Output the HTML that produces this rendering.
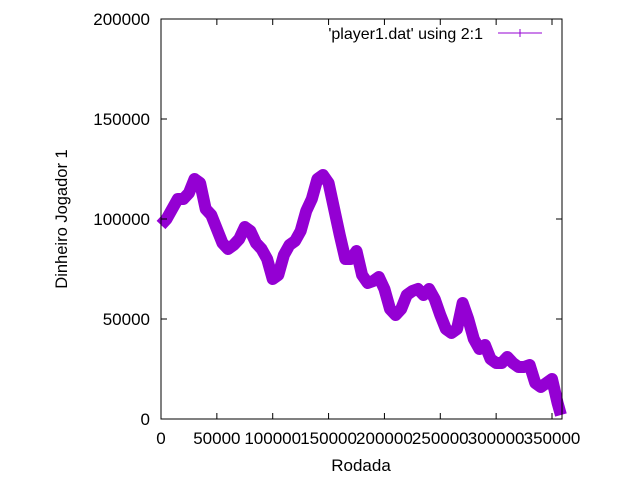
<!DOCTYPE html>
<html><head><meta charset="utf-8"><style>
body{margin:0;background:#fff}
svg{display:block;font-family:"Liberation Sans",sans-serif;font-size:17px}
</style></head><body>
<svg width="640" height="480">
<g id="series"></g>
<rect x="161" y="19" width="401" height="400" fill="none" stroke="#000" stroke-width="1"/>
<g id="ticks"></g>
<text x="361" y="471" text-anchor="middle">Rodada</text>
<text transform="translate(67,219) rotate(-90)" text-anchor="middle" style="font-size:16.5px">Dinheiro Jogador 1</text>
<g>
<text x="483" y="39" text-anchor="end" style="font-size:16px">'player1.dat' using 2:1</text>
<line x1="498" y1="33" x2="542" y2="33" stroke="#9400d3" stroke-width="1"/>
<line x1="520" y1="29" x2="520" y2="37" stroke="#9400d3" stroke-width="1"/>
</g>
</svg>
<script>
const xVals=[0,5000,10000,15000,20000,25000,30000,35000,40000,45000,50000,55000,60000,65000,70000,75000,80000,85000,90000,95000,100000,105000,110000,115000,120000,125000,130000,135000,140000,145000,150000,155000,160000,165000,170000,175000,180000,185000,190000,195000,200000,205000,210000,215000,220000,225000,230000,235000,240000,245000,250000,255000,260000,265000,270000,275000,280000,285000,290000,295000,300000,305000,310000,315000,320000,325000,330000,335000,340000,345000,350000,355000,358000];
const yVals=[97000,100000,105000,110000,110000,113000,120000,118000,105000,102000,95000,88000,85000,87000,90000,96000,94000,88000,85000,80000,70000,72000,82000,87000,89000,94000,104000,110000,120000,122000,118000,105000,92000,80000,80000,84000,72000,68000,69000,71000,65000,55000,52000,55000,62000,64000,65000,62000,65000,60000,52000,45000,43000,45000,58000,50000,40000,35000,37000,30000,28000,28000,31000,28000,26000,26000,27000,18000,16000,18000,20000,8000,2000];
const xTicks=[0,50000,100000,150000,200000,250000,300000,350000];
const yTicks=[0,50000,100000,150000,200000];
const NS="http://www.w3.org/2000/svg";
const X=v=>161+v*391/350000;
const Y=v=>419-v*400/200000;
const tg=document.getElementById('ticks');
xTicks.forEach(t=>{
 const l=document.createElementNS(NS,'path');
 l.setAttribute('d',`M${X(t)},419v-6M${X(t)},19v6`);l.setAttribute('stroke','#000');
 
 
 tg.appendChild(l);
 const tx=document.createElementNS(NS,'text');
 tx.setAttribute('x',X(t));tx.setAttribute('y',444);tx.setAttribute('text-anchor','middle');tx.textContent=t;
 
 
 tg.appendChild(tx);
});
yTicks.forEach(t=>{
 const l=document.createElementNS(NS,'path');
 l.setAttribute('d',`M161,${Y(t)}h6M562,${Y(t)}h-6`);l.setAttribute('stroke','#000');
 
 
 tg.appendChild(l);
 const tx=document.createElementNS(NS,'text');
 tx.setAttribute('x',150);tx.setAttribute('y',Y(t)+6);tx.setAttribute('text-anchor','end');tx.textContent=t;
 
 
 tg.appendChild(tx);
});
const sg=document.getElementById('series');
const p=document.createElementNS(NS,'polyline');
p.setAttribute('points',xVals.map((x,i)=>X(x)+','+Y(yVals[i])).join(' '));
p.setAttribute('fill','none');p.setAttribute('stroke','#9400d3');p.setAttribute('stroke-width','12');p.setAttribute('stroke-linejoin','round');


sg.appendChild(p);
</script>
</body></html>
